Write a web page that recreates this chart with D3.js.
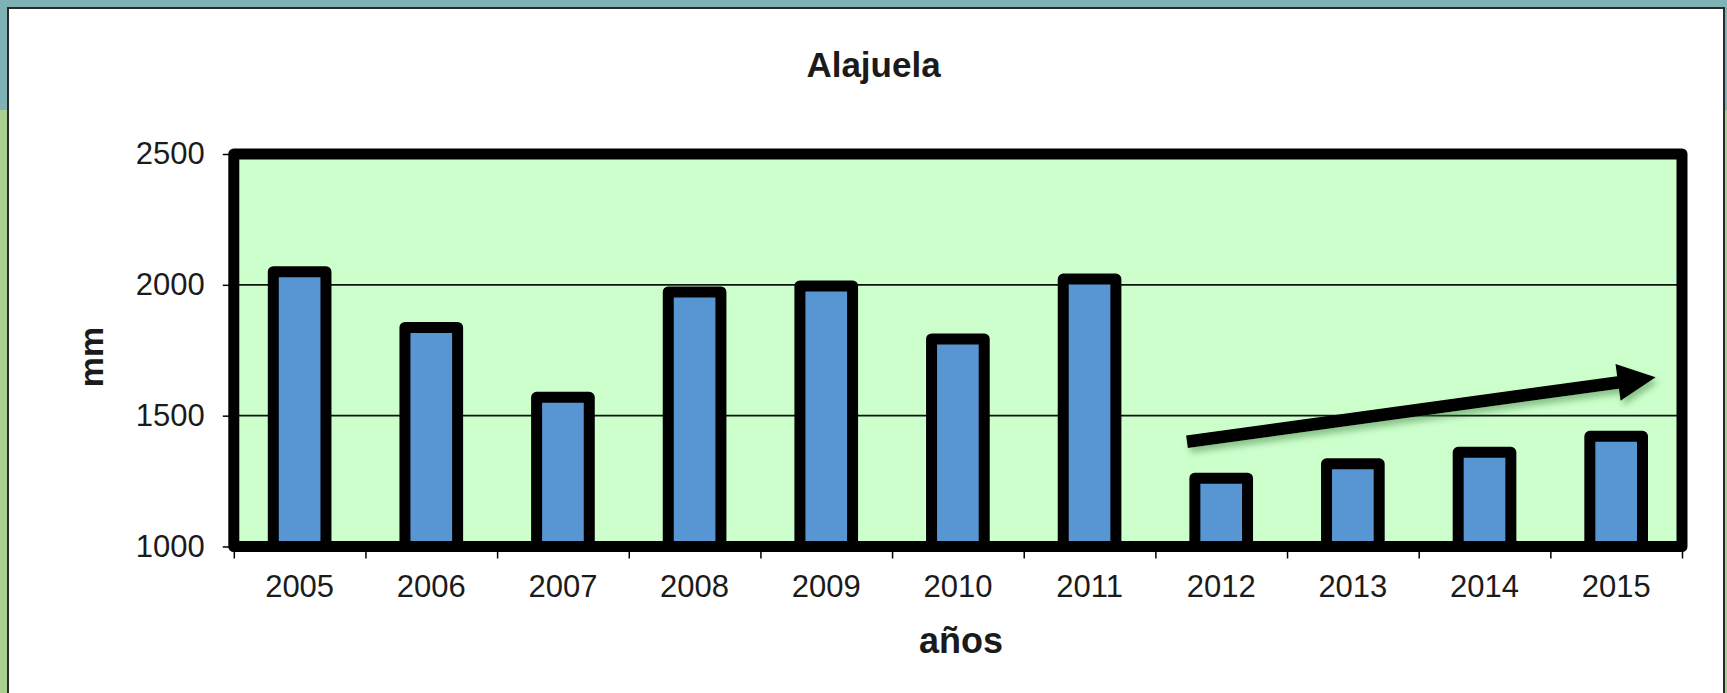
<!DOCTYPE html>
<html>
<head>
<meta charset="utf-8">
<script src="https://cdn.jsdelivr.net/npm/d3@7"></script>
<style>
  html, body { margin: 0; padding: 0; background: #fff; }
  svg { display: block; }
  text { font-family: "Liberation Sans", Arial, sans-serif; fill: #1b1b1b; }
</style>
</head>
<body>
<svg id="chart"></svg>
<script>
// rainfall per year (mm)
const years = ['2005', '2006', '2007', '2008', '2009', '2010', '2011', '2012', '2013', '2014', '2015'];
const rain = [2050, 1837, 1570, 1973, 1996, 1793, 2022, 1261, 1316, 1360, 1421];
const yTicks = [1000, 1500, 2000, 2500];
const gridValues = [1500, 2000];
// trend arrow, in (category index, mm)
const arrowFrom = [7.24, 1400];
const arrowTo = [10.8, 1647];

const W = 1727, H = 693;
const plot = { left: 233.8, right: 1682, top: 154, bottom: 546.5 };

const svg = d3.select('#chart').attr('width', W).attr('height', H);

// page backdrop
svg.append('rect').attr('width', W).attr('height', 110).attr('fill', '#7fb2b4');
svg.append('rect').attr('y', 110).attr('width', W).attr('height', H - 110).attr('fill', '#a9d08e');
svg.append('rect').attr('x', 8).attr('y', 8).attr('width', 1716).attr('height', H)
  .attr('fill', '#fff').attr('stroke', '#2a2a2a').attr('stroke-width', 2);

const x = d3.scaleBand()
  .domain(years)
  .range([plot.left, plot.right])
  .paddingInner(0.6)
  .paddingOuter(0.3);

const xi = d3.scaleLinear().domain([0, years.length]).range([plot.left, plot.right]);

const y = d3.scaleLinear().domain([1000, 2500]).range([plot.bottom, plot.top]);

// plot area fill
svg.append('rect')
  .attr('x', plot.left).attr('y', plot.top)
  .attr('width', plot.right - plot.left).attr('height', plot.bottom - plot.top)
  .attr('fill', '#ccffcc');

// gridlines
svg.append('g').selectAll('line')
  .data(gridValues)
  .enter().append('line')
  .attr('x1', plot.left).attr('x2', plot.right)
  .attr('y1', d => y(d)).attr('y2', d => y(d))
  .attr('stroke', '#111').attr('stroke-width', 1.6);

// bars
svg.append('g').selectAll('rect')
  .data(years)
  .enter().append('rect')
  .attr('x', d => x(d))
  .attr('y', (d, i) => y(rain[i]))
  .attr('width', x.bandwidth())
  .attr('height', (d, i) => y(1000) - y(rain[i]))
  .attr('fill', '#5896d3')
  .attr('stroke', '#000')
  .attr('stroke-width', 11)
  .attr('stroke-linejoin', 'round');

// plot frame on top
svg.append('rect')
  .attr('x', plot.left).attr('y', plot.top)
  .attr('width', plot.right - plot.left).attr('height', plot.bottom - plot.top)
  .attr('fill', 'none').attr('stroke', '#000').attr('stroke-width', 11)
  .attr('stroke-linejoin', 'round');

// y axis
const yAxis = svg.append('g')
  .attr('transform', 'translate(' + plot.left + ',0)')
  .call(d3.axisLeft(y).tickValues(yTicks).tickFormat(d3.format('d')).tickSize(11).tickPadding(18));
yAxis.select('.domain').remove();
yAxis.selectAll('line').attr('stroke', '#000').attr('stroke-width', 1.5);
yAxis.selectAll('text').attr('font-size', 31).attr('font-family', null).attr('fill', null);

// x axis ticks at band edges
const xTicks = svg.append('g')
  .attr('transform', 'translate(0,' + plot.bottom + ')')
  .call(d3.axisBottom(xi).tickValues(d3.range(0, years.length + 1)).tickSize(12).tickFormat(''));
xTicks.select('.domain').remove();
xTicks.selectAll('line').attr('stroke', '#000').attr('stroke-width', 1.5);

// x axis labels
const xAxis = svg.append('g')
  .attr('transform', 'translate(0,' + plot.bottom + ')')
  .call(d3.axisBottom(x).tickSize(0).tickPadding(28));
xAxis.select('.domain').remove();
xAxis.selectAll('text').attr('font-size', 31).attr('font-family', null).attr('fill', null);

// trend arrow
const defs = svg.append('defs');
const shadow = defs.append('filter').attr('id', 'shadow')
  .attr('x', '-20%').attr('y', '-50%').attr('width', '140%').attr('height', '200%');
shadow.append('feDropShadow')
  .attr('dx', 3).attr('dy', 5).attr('stdDeviation', 3)
  .attr('flood-color', '#3d7a3d').attr('flood-opacity', 0.45);

const ax0 = xi(arrowFrom[0]), ay0 = y(arrowFrom[1]);
const ax1 = xi(arrowTo[0]), ay1 = y(arrowTo[1]);
const ang = Math.atan2(ay1 - ay0, ax1 - ax0);
const headLen = 38, headHalf = 18.5, shaft = 6.3;
const ux = Math.cos(ang), uy = Math.sin(ang);
const px = -uy, py = ux;
const bx = ax1 - ux * headLen, by = ay1 - uy * headLen;
const arrowPts = [
  [ax0 + px * shaft, ay0 + py * shaft],
  [bx + px * shaft, by + py * shaft],
  [bx + px * headHalf, by + py * headHalf],
  [ax1, ay1],
  [bx - px * headHalf, by - py * headHalf],
  [bx - px * shaft, by - py * shaft],
  [ax0 - px * shaft, ay0 - py * shaft]
];
svg.append('path')
  .attr('d', d3.line()(arrowPts) + 'Z')
  .attr('fill', '#000')
  .attr('filter', 'url(#shadow)');

// titles
svg.append('text')
  .attr('x', 873.5).attr('y', 77)
  .attr('text-anchor', 'middle')
  .attr('font-size', 35).attr('font-weight', 'bold')
  .text('Alajuela');

svg.append('text')
  .attr('transform', 'translate(103,357) rotate(-90)')
  .attr('text-anchor', 'middle')
  .attr('font-size', 34).attr('font-weight', 'bold')
  .text('mm');

svg.append('text')
  .attr('x', (plot.left + plot.right) / 2 + 3).attr('y', 653)
  .attr('text-anchor', 'middle')
  .attr('font-size', 36).attr('font-weight', 'bold')
  .text('años');
</script>
</body>
</html>
